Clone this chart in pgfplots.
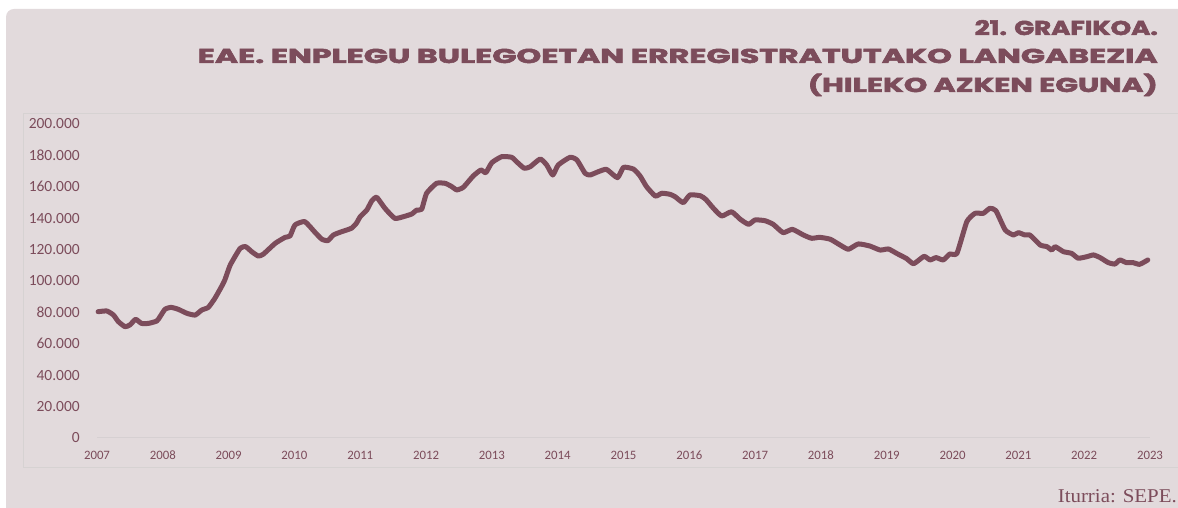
\documentclass[border=0pt]{standalone}
\usepackage{fontspec}
\usepackage{graphicx}
\usepackage{pgfplots}
\pgfplotsset{compat=1.18}
\setmainfont{Carlito}
\newfontfamily\titlefont{Poppins}[BoldFeatures={FakeBold=2.5}]
\newfontfamily\seriffont{Liberation Serif}
\definecolor{maroon}{RGB}{124,76,91}
\definecolor{bgcol}{RGB}{226,218,220}
\definecolor{framecol}{RGB}{214,210,210}
\definecolor{gridcol}{RGB}{214,208,210}
\begin{document}
\begin{tikzpicture}[x=1pt,y=1pt]
\useasboundingbox (0,0) rectangle (1178,508);
\fill[white] (0,0) rectangle (1178,508);
\begin{scope}
\clip (0,0) rectangle (1178,508);
\fill[bgcol, rounded corners=8pt] (6,-30) rectangle (1220,499);
\draw[framecol, line width=1pt] (23,40) rectangle (1220,394);
\end{scope}
\node[anchor=base east, inner sep=0pt, text=maroon, font=\titlefont\fontsize{20}{20}\selectfont\bfseries] at (1158,473) {\resizebox{183pt}{\height}{21. GRAFIKOA.}};
\node[anchor=base east, inner sep=0pt, text=maroon, font=\titlefont\fontsize{20}{20}\selectfont\bfseries] at (1158,445) {\resizebox{960pt}{\height}{EAE. ENPLEGU BULEGOETAN ERREGISTRATUTAKO LANGABEZIA}};
\node[anchor=base east, inner sep=0pt, text=maroon, font=\titlefont\fontsize{20}{20}\selectfont\bfseries] at (1158,416) {\resizebox{350pt}{\height}{(HILEKO AZKEN EGUNA)}};
\node[anchor=base east, inner sep=0pt, text=maroon, font=\seriffont\fontsize{19.5}{20}\selectfont] at (1177,5) {\resizebox{119pt}{\height}{Iturria: SEPE.}};
\begin{axis}[
  at={(97pt,70pt)}, anchor=south west,
  scale only axis, width=1053pt, height=314pt,
  xmin=0, xmax=192, ymin=0, ymax=200000,
  axis line style={draw=none},
  major tick length=0pt,
  xtick={0,12,...,192},
  xticklabels={2007,2008,2009,2010,2011,2012,2013,2014,2015,2016,2017,2018,2019,2020,2021,2022,2023},
  ytick={0,20000,...,200000},
  scaled y ticks=false,
  yticklabel style={/pgf/number format/fixed, /pgf/number format/precision=0, /pgf/number format/1000 sep={.}, /pgf/number format/assume math mode=true, anchor=east, inner sep=0pt, xshift=-17pt, font=\fontsize{15.5}{16}\selectfont, text=maroon},
  xticklabel style={anchor=center, inner sep=0pt, yshift=-17.5pt, font=\fontsize{12.8}{14}\selectfont, text=maroon},
  clip=false,
]
\addplot[gridcol, line width=1pt, forget plot] coordinates {(0,0) (192,0)};
\addplot[maroon, line width=5pt, line join=round, line cap=round, smooth, tension=0.3] coordinates {
(0.2,80450) (1.8,80900) (3,78350) (3.9,74100) (5.1,70900) (6,72000) (7.05,75600) (8.1,73000) (9.4,73000) (10.9,74500) (11.5,77300) (12.4,82000) (13.5,83200) (14.8,82000) (16.4,79400) (17.9,78300) (19.1,81500) (20.3,83200) (21.5,89000) (22.7,96400) (23.3,100600) (24.3,110200) (26.1,120800) (27.1,121900) (28.2,118700) (29.4,115900) (30.3,117000) (32.5,124000) (34.3,127800) (35.2,128700) (36.1,135700) (37.9,137800) (39.8,130800) (41,126600) (42.1,125700) (43.1,129300) (44.6,131400) (46.4,133600) (47.3,136800) (48,141000) (49.2,145200) (50.1,151000) (51,153300) (52.5,146300) (54.3,139900) (55.9,141000) (57.4,142700) (58.3,145200) (59.2,145700) (60.1,155900) (61.9,162200) (63.5,162200) (64.7,160100) (65.6,158000) (66.8,159700) (68.6,166900) (70,170700) (70.9,169000) (72,175400) (73.8,179200) (75.6,178800) (76.5,176000) (77.9,171800) (79,172800) (80.8,177700) (82,173900) (83.1,167500) (84.1,173900) (86.25,178800) (87.5,177100) (89,168600) (89.9,167500) (91.4,169600) (92.9,171100) (94.9,165800) (96,172400) (97.8,171300) (99,167000) (100.2,160100) (101.8,154100) (103,155900) (104.5,155200) (105.4,153700) (106.9,149900) (108.1,154800) (110,154300) (111,152000) (112.4,146300) (113.9,141400) (115.7,144100) (117.3,139300) (118.8,136100) (120,138900) (121.8,138400) (123.3,136100) (125.1,130800) (126.8,132900) (128.8,129300) (130.3,127200) (131.8,127800) (133.7,126600) (135.5,122900) (137,120200) (138.8,123600) (140.9,122300) (142.8,119700) (144.3,120400) (145.8,117600) (147.6,114300) (148.9,111000) (150.8,115700) (151.9,113400) (153,114900) (154.3,113400) (155.5,117200) (156.8,117600) (158.6,137800) (160.1,143100) (161.6,143100) (162.8,146300) (163.9,144800) (165.6,132500) (167.1,129300) (168,130800) (169.2,129300) (170.1,129300) (172,122900) (173.2,121900) (174.1,119700) (174.7,121900) (176.2,118700) (177.7,117600) (178.9,114500) (180.5,115500) (181.7,116600) (182.9,114900) (184.4,111700) (185.6,110800) (186.5,113400) (187.7,111700) (188.9,111700) (190.1,110600) (191.6,113400)
};
\end{axis}
\end{tikzpicture}
\end{document}
